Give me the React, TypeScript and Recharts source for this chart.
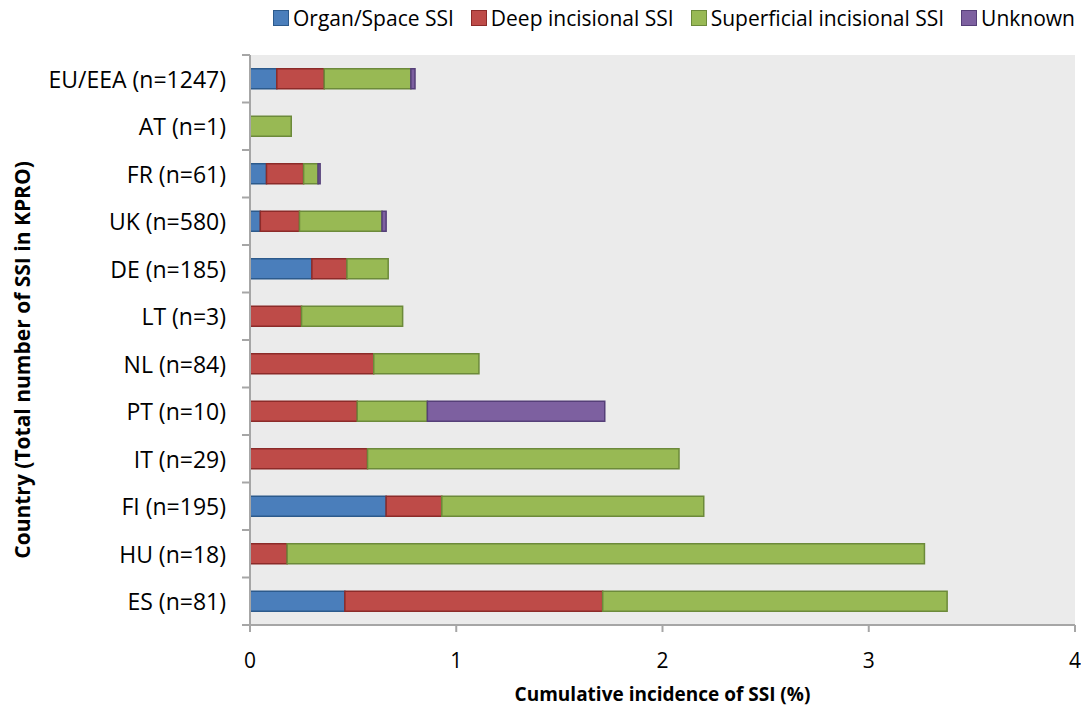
import { BarChart, Bar, XAxis, YAxis, Legend, CartesianGrid } from 'recharts'

const countries = [
  'EU/EEA (n=1247)',
  'AT (n=1)',
  'FR (n=61)',
  'UK (n=580)',
  'DE (n=185)',
  'LT (n=3)',
  'NL (n=84)',
  'PT (n=10)',
  'IT (n=29)',
  'FI (n=195)',
  'HU (n=18)',
  'ES (n=81)',
]
const organSpace = [0.13, 0, 0.08, 0.05, 0.3, 0, 0, 0, 0, 0.66, 0, 0.46]
const deepIncisional = [0.23, 0, 0.18, 0.19, 0.17, 0.25, 0.6, 0.52, 0.57, 0.27, 0.18, 1.25]
const superficialIncisional = [0.42, 0.2, 0.07, 0.4, 0.2, 0.49, 0.51, 0.34, 1.51, 1.27, 3.09, 1.67]
const unknown = [0.02, 0, 0.01, 0.02, 0, 0, 0, 0.86, 0, 0, 0, 0]
const xTicks = [0, 1, 2, 3, 4]

const data = countries.map((country, i) => ({
  country,
  organ: organSpace[i],
  deep: deepIncisional[i],
  superficial: superficialIncisional[i],
  unknown: unknown[i],
}))

const series = [
  { key: 'organ', name: 'Organ/Space SSI', fill: '#4A7EBB', stroke: '#2C5A8C' },
  { key: 'deep', name: 'Deep incisional SSI', fill: '#BE4B48', stroke: '#8C2B29' },
  { key: 'superficial', name: 'Superficial incisional SSI', fill: '#98B954', stroke: '#6C8A3A' },
  { key: 'unknown', name: 'Unknown', fill: '#7D60A0', stroke: '#553F78' },
]

const font = '"Open Sans", sans-serif'
const axisGrey = '#A6A6A6'
const labelGap = 24

function LegendContent() {
  return (
    <div
      style={{
        display: 'flex',
        justifyContent: 'flex-end',
        fontFamily: font,
        fontSize: 21,
        lineHeight: '28px',
        color: '#000',
      }}
    >
      {series.map((s) => (
        <div key={s.key} style={{ display: 'flex', alignItems: 'center', marginLeft: 17 }}>
          <span
            style={{
              display: 'inline-block',
              width: 14,
              height: 14,
              background: s.fill,
              border: `1px solid ${s.stroke}`,
              marginRight: 4,
            }}
          />
          <span>{s.name}</span>
        </div>
      ))}
    </div>
  )
}

// label plus Excel-style tick marks on the category boundaries
function CountryTick(props: any) {
  const { x, y, payload, index, visibleTicksCount } = props
  const half = payload && payload.offset ? payload.offset : 0
  const ax = x + labelGap
  const last = index === visibleTicksCount - 1
  return (
    <g>
      <text
        x={x}
        y={y}
        textAnchor="end"
        dominantBaseline="central"
        fontFamily={font}
        fontSize={23}
        fill="#000"
      >
        {payload.value}
      </text>
      <line x1={ax - 8} y1={y - half} x2={ax} y2={y - half} stroke={axisGrey} strokeWidth={2} />
      {last && <line x1={ax - 8} y1={y + half} x2={ax} y2={y + half} stroke={axisGrey} strokeWidth={2} />}
    </g>
  )
}

function YTitle({ viewBox }: any) {
  const cx = 22
  const cy = viewBox.y + viewBox.height / 2 + 20
  return (
    <text
      x={cx}
      y={cy}
      transform={`rotate(-90 ${cx} ${cy})`}
      textAnchor="middle"
      dominantBaseline="central"
      fontFamily={font}
      fontSize={21}
      fontWeight="bold"
      fill="#000"
    >
      Country  (Total number of SSI in KPRO)
    </text>
  )
}

export default function App() {
  return (
    <div style={{ position: 'absolute', left: 0, top: 0, width: 1081, height: 711, background: '#fff' }}>
      <BarChart
        width={1081}
        height={711}
        data={data}
        layout="vertical"
        margin={{ top: 27, right: 6, bottom: 0, left: 0 }}
        barCategoryGap="29%"
      >
        <CartesianGrid fill="#EBEBEB" horizontal={false} vertical={false} />
        <XAxis
          type="number"
          domain={[0, 4]}
          ticks={xTicks}
          height={86}
          stroke={axisGrey}
          strokeWidth={2}
          tickSize={7}
          tickMargin={21}
          tick={{ fill: '#000', fontSize: 21, fontFamily: font }}
          label={{
            value: 'Cumulative incidence of SSI (%)',
            position: 'insideBottom',
            offset: 10,
            fill: '#000',
            fontSize: 19,
            fontWeight: 'bold',
            fontFamily: font,
          }}
        />
        <YAxis
          type="category"
          dataKey="country"
          width={250}
          stroke={axisGrey}
          strokeWidth={2}
          tickLine={false}
          tickSize={0}
          tickMargin={labelGap}
          tick={<CountryTick />}
          label={<YTitle />}
        />
        <Legend
          verticalAlign="top"
          align="right"
          content={<LegendContent />}
          wrapperStyle={{ top: 4, right: 6, width: 1070 }}
        />
        {series.map((s) => (
          <Bar
            key={s.key}
            dataKey={s.key}
            name={s.name}
            stackId="a"
            fill={s.fill}
            stroke={s.stroke}
            strokeWidth={1.5}
            isAnimationActive={false}
          />
        ))}
      </BarChart>
    </div>
  )
}
